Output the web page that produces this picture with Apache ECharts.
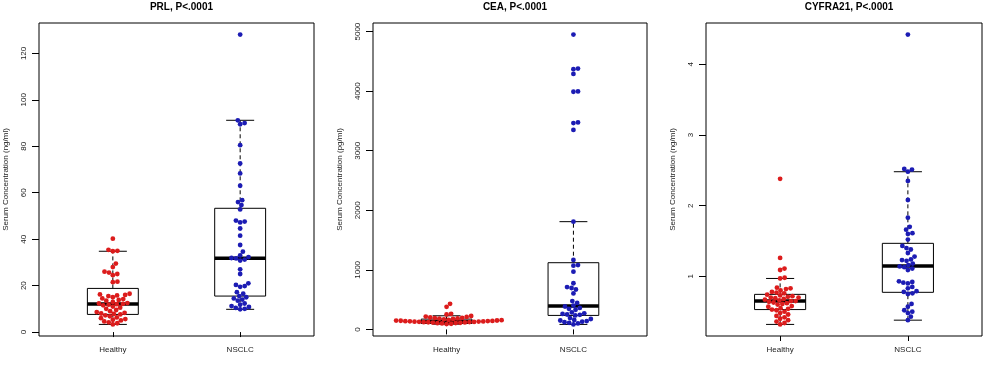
<!DOCTYPE html>
<html>
<head>
<meta charset="utf-8">
<title>Serum markers</title>
<script src="https://cdn.jsdelivr.net/npm/echarts@6/dist/echarts.min.js"></script>
<style>
  html, body { margin: 0; padding: 0; background: #fff; }
  #chart { width: 984px; height: 371px; }
</style>
</head>
<body>
<div id="chart"></div>
<script>
const groups = ['Healthy', 'NSCLC']
const titles = ['PRL, P<.0001', 'CEA, P<.0001', 'CYFRA21, P<.0001']
const yNames = ['Serum Concentration (ng/ml)', 'Serum Concentration (pg/ml)', 'Serum Concentration (ng/ml)']
const yTicks = [
  [0, 20, 40, 60, 80, 100, 120],
  [0, 1000, 2000, 3000, 4000, 5000],
  [1, 2, 3, 4],
]

// raw values
const prlHealthy = [40.2, 35.4, 35.0, 34.8, 29.5, 28.0, 26.0, 25.6, 25.0, 24.5, 21.7, 21.5,
  16.5, 16.2, 16.0, 15.8, 15.5, 15.0, 14.5, 14.2, 13.8, 13.5, 13.0, 12.5, 12.3, 12.1, 12.0,
  11.8, 11.5, 11.0, 10.5, 10.0, 9.5, 9.0, 8.6, 8.3, 8.0, 7.8, 7.6, 7.2, 6.8, 6.3, 6.0, 5.6,
  5.3, 5.0, 4.6, 4.2, 3.8, 3.3]
const prlNsclc = [128.1, 91.2, 90.0, 89.5, 80.5, 72.6, 68.3, 63.0, 56.8, 56.0, 54.7, 52.8,
  48.0, 47.6, 47.2, 44.6, 41.5, 37.5, 34.6, 33.0, 32.3, 31.9, 31.7, 31.2, 30.8, 27.0, 25.0,
  21.0, 20.3, 19.8, 19.5, 17.2, 16.5, 15.5, 15.0, 14.5, 14.0, 13.5, 12.3, 11.8, 11.2, 10.8,
  10.4, 10.0, 9.8]
const ceaHealthy = [430, 380, 262, 250,
  225, 215, 210, 200, 195, 190, 185, 180, 175, 170,
  160, 155, 150, 148, 145, 142, 140, 138, 136, 134, 132, 130, 128, 126, 124, 122, 120, 118,
  115, 112, 108, 104, 100, 95, 90]
const ceaNsclc = [4950, 4380, 4370, 4290, 3995, 3990, 3475, 3465, 3350, 1809, 1165, 1080, 1070,
  970, 775, 710, 695, 670, 605, 475, 445, 400, 385, 360, 345, 330, 285, 270, 260, 250, 245, 235,
  190, 175, 160, 150, 140, 130, 120, 110, 100, 84]
const cyfraHealthy = [2.38, 1.26, 1.11, 1.09, 0.98, 0.97, 0.84, 0.83, 0.82, 0.80, 0.78, 0.77,
  0.76, 0.74, 0.73, 0.72, 0.71, 0.70, 0.70, 0.69, 0.68, 0.67, 0.66, 0.65, 0.65, 0.64, 0.63,
  0.62, 0.61, 0.60, 0.58, 0.57, 0.55, 0.54, 0.53, 0.52, 0.50, 0.48, 0.46, 0.44, 0.42, 0.40,
  0.38, 0.36, 0.34, 0.32]
const cyfraNsclc = [4.42, 2.52, 2.51, 2.48, 2.35, 2.08, 1.83, 1.70, 1.66, 1.61, 1.60, 1.52,
  1.43, 1.40, 1.38, 1.33, 1.28, 1.24, 1.23, 1.22, 1.18, 1.16, 1.14, 1.13, 1.11, 1.09, 0.93,
  0.92, 0.91, 0.90, 0.85, 0.83, 0.79, 0.78, 0.76, 0.75, 0.61, 0.57, 0.52, 0.50, 0.48, 0.43, 0.38]

// box stats: [lower whisker, Q1, median, Q3, upper whisker]
const prlBox = [[3.3, 7.6, 12.1, 18.8, 34.8], [9.8, 15.5, 31.8, 53.3, 91.2]]
const ceaBox = [[88, 100, 128, 173, 229], [84, 235, 392, 1120, 1809]]
const cyfraBox = [[0.32, 0.53, 0.65, 0.745, 0.97], [0.38, 0.774, 1.146, 1.467, 2.48]]

const points = [[prlHealthy, prlNsclc], [ceaHealthy, ceaNsclc], [cyfraHealthy, cyfraNsclc]]
const boxes = [prlBox, ceaBox, cyfraBox]
const colors = ['#dc1c1c', '#1c1cb4']

const grids = [
  { left: 39, top: 23, width: 275, height: 313 },
  { left: 373, top: 23, width: 274, height: 313 },
  { left: 706, top: 23, width: 276, height: 313 },
]

const chart = echarts.init(document.getElementById('chart'))
const font = 'Liberation Sans, Arial, sans-serif'

// R style: data range padded by 4%
const yRange = (k) => {
  const all = points[k][0].concat(points[k][1])
  const lo = Math.min(...all), hi = Math.max(...all)
  const pad = (hi - lo) * 0.04
  return [lo - pad, hi + pad]
}

const renderBox = (params, api) => {
  const x = api.value(0)
  const half = api.size([0.2, 0])[0]
  const cap = half * 0.55
  const p = (v) => api.coord([x, v])
  const lo = p(api.value(1)), q1 = p(api.value(2)), md = p(api.value(3))
  const q3 = p(api.value(4)), hi = p(api.value(5))
  const black = { stroke: '#000', lineWidth: 1 }
  const dashed = { stroke: '#000', lineWidth: 1, lineDash: [4, 3] }
  return {
    type: 'group',
    children: [
      { type: 'line', shape: { x1: lo[0], y1: lo[1], x2: q1[0], y2: q1[1] }, style: dashed },
      { type: 'line', shape: { x1: q3[0], y1: q3[1], x2: hi[0], y2: hi[1] }, style: dashed },
      { type: 'line', shape: { x1: lo[0] - cap, y1: lo[1], x2: lo[0] + cap, y2: lo[1] }, style: black },
      { type: 'line', shape: { x1: hi[0] - cap, y1: hi[1], x2: hi[0] + cap, y2: hi[1] }, style: black },
      { type: 'rect', shape: { x: q3[0] - half, y: q3[1], width: half * 2, height: q1[1] - q3[1] },
        style: { fill: '#fff', stroke: '#000', lineWidth: 1 } },
      { type: 'line', shape: { x1: md[0] - half, y1: md[1], x2: md[0] + half, y2: md[1] },
        style: { stroke: '#000', lineWidth: 3.5 } },
    ],
  }
}

const option = {
  backgroundColor: '#fff',
  animation: false,
  title: titles.map((t, k) => ({
    text: t,
    left: grids[k].left + grids[k].width / 2,
    top: -3,
    textAlign: 'center',
    textStyle: { fontSize: 10, fontWeight: 'bold', color: '#000', fontFamily: font },
  })),
  grid: grids.map((g) => ({ ...g, show: true, borderColor: '#000', borderWidth: 1, backgroundColor: '#fff' })),
  xAxis: grids.map((g, k) => ({
    gridIndex: k,
    type: 'value',
    min: 0.42,
    max: 2.58,
    splitLine: { show: false },
    axisLine: { show: false },
    axisTick: { show: true, customValues: [1, 2], length: 5, lineStyle: { color: '#000' } },
    axisLabel: {
      customValues: [1, 2],
      formatter: (v) => groups[Math.round(v) - 1],
      fontSize: 8, color: '#222', margin: 10, fontFamily: font,
    },
  })),
  yAxis: grids.map((g, k) => ({
    gridIndex: k,
    type: 'value',
    min: yRange(k)[0],
    max: yRange(k)[1],
    splitLine: { show: false },
    axisLine: { show: false },
    axisTick: { show: true, customValues: yTicks[k], length: 7, lineStyle: { color: '#000' } },
    axisLabel: {
      customValues: yTicks[k],
      formatter: (v) => String(v),
      rotate: 90, fontSize: 8, color: '#222', margin: 11, fontFamily: font,
    },
    name: yNames[k],
    nameLocation: 'middle',
    nameRotate: 90,
    nameGap: 29,
    nameTextStyle: { fontSize: 8, color: '#222', fontFamily: font },
  })),
  series: [],
}

boxes.forEach((b, k) => {
  option.series.push({
    type: 'custom',
    xAxisIndex: k,
    yAxisIndex: k,
    renderItem: renderBox,
    data: b.map((s, i) => [i + 1].concat(s)),
    z: 2,
  })
})
points.forEach((pair, k) => {
  pair.forEach((vals, i) => {
    option.series.push({
      type: 'scatter',
      xAxisIndex: k,
      yAxisIndex: k,
      symbolSize: 4.8,
      itemStyle: { color: colors[i], opacity: 1 },
      data: vals.map((v) => [i + 1, v]),
      z: 5,
    })
  })
})

chart.setOption(option)

// beeswarm layout (ascending order, nearest free slot to the centre line)
const swarm = (ys, d) => {
  const order = ys.map((y, i) => i).sort((a, b) => ys[b] - ys[a])
  const placed = []
  const out = new Array(ys.length)
  order.forEach((i) => {
    const y = ys[i]
    const cands = [0]
    placed.forEach((p) => {
      const dy = Math.abs(p.y - y)
      if (dy < d) {
        const dx = Math.sqrt(d * d - dy * dy)
        cands.push(p.x + dx, p.x - dx)
      }
    })
    cands.sort((a, b) => Math.abs(a) - Math.abs(b))
    let best = 0
    for (const c of cands) {
      if (placed.every((p) => (p.x - c) ** 2 + (p.y - y) ** 2 >= d * d - 1e-6)) { best = c; break }
    }
    placed.push({ x: best, y })
    out[i] = best
  })
  return out
}

const newSeries = option.series.map(() => ({}))
let si = boxes.length
points.forEach((pair, k) => {
  const a = chart.convertToPixel({ gridIndex: k }, [1, 0])
  const b = chart.convertToPixel({ gridIndex: k }, [2, 0])
  const pxPerX = b[0] - a[0]
  pair.forEach((vals, i) => {
    const ys = vals.map((v) => chart.convertToPixel({ gridIndex: k }, [1, v])[1])
    const dx = swarm(ys, 4.6)
    newSeries[si] = { data: vals.map((v, j) => [i + 1 + dx[j] / pxPerX, v]) }
    si++
  })
})
chart.setOption({ series: newSeries })
</script>
</body>
</html>
